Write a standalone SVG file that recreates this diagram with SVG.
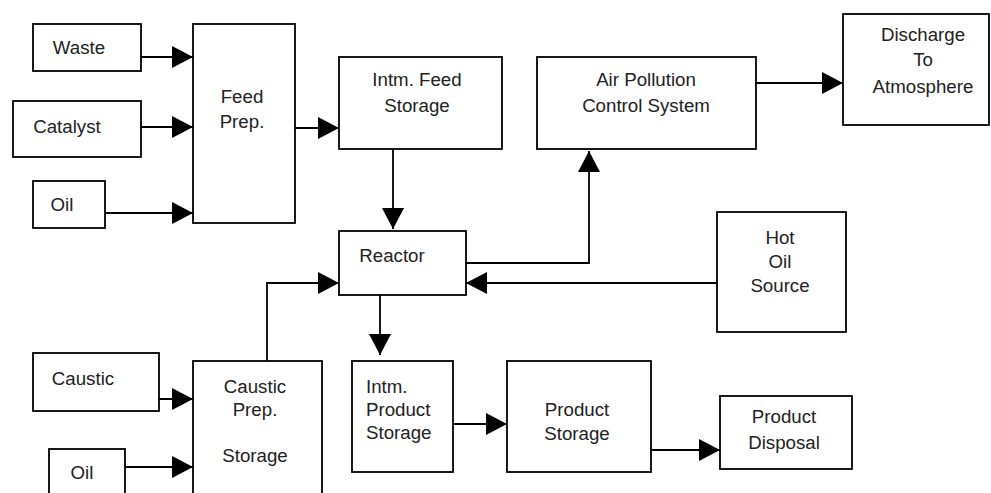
<svg xmlns="http://www.w3.org/2000/svg" width="991" height="493" viewBox="0 0 991 493">
<style>
.box{fill:#fff;stroke:#000;stroke-width:1.8}
.t{font-family:"Liberation Sans",Arial,sans-serif;font-size:18.7px;fill:#222;text-anchor:middle}
.l{text-anchor:start}
.c{fill:none;stroke:#000;stroke-width:1.8}
</style>
<defs>
<marker id="ah" viewBox="0 0 21 22" refX="21" refY="11" markerWidth="21" markerHeight="22" markerUnits="userSpaceOnUse" orient="auto"><path d="M0,0 L21,11 L0,22 Z" fill="#000"/></marker>
</defs>
<rect width="991" height="493" fill="#fff"/>
<g id="connectors">
<path class="c" d="M141,57 H193" marker-end="url(#ah)"/>
<path class="c" d="M141,127 H193" marker-end="url(#ah)"/>
<path class="c" d="M105,213 H193" marker-end="url(#ah)"/>
<path class="c" d="M295,128 H339" marker-end="url(#ah)"/>
<path class="c" d="M393,149 V229" marker-end="url(#ah)"/>
<path class="c" d="M466,263 H589 V151" marker-end="url(#ah)"/>
<path class="c" d="M756,83 H843" marker-end="url(#ah)"/>
<path class="c" d="M717,283 H466" marker-end="url(#ah)"/>
<path class="c" d="M267,361 V283 H339" marker-end="url(#ah)"/>
<path class="c" d="M159,399 H193" marker-end="url(#ah)"/>
<path class="c" d="M125,467 H193" marker-end="url(#ah)"/>
<path class="c" d="M380,295 V355" marker-end="url(#ah)"/>
<path class="c" d="M453,424 H507" marker-end="url(#ah)"/>
<path class="c" d="M651,450 H720" marker-end="url(#ah)"/>
</g>
<g id="waste"><rect class="box" x="33" y="24" width="108" height="47"/><text class="t" x="79" y="54">Waste</text></g>
<g id="catalyst"><rect class="box" x="13" y="101" width="128" height="56"/><text class="t" x="67" y="133">Catalyst</text></g>
<g id="oil1"><rect class="box" x="33" y="181" width="72" height="47"/><text class="t" x="62" y="211">Oil</text></g>
<g id="feedprep"><rect class="box" x="193" y="24" width="102" height="199"/><text class="t" x="242" y="103">Feed</text><text class="t" x="242" y="128">Prep.</text></g>
<g id="intmfeed"><rect class="box" x="339" y="57" width="163" height="92"/><text class="t" x="417" y="86">Intm. Feed</text><text class="t" x="417" y="112">Storage</text></g>
<g id="airpollution"><rect class="box" x="537" y="57" width="219" height="92"/><text class="t" x="646" y="86">Air Pollution</text><text class="t" x="646" y="112">Control System</text></g>
<g id="discharge"><rect class="box" x="843" y="14" width="146" height="111"/><text class="t" x="923" y="41">Discharge</text><text class="t" x="923" y="66">To</text><text class="t" x="923" y="93">Atmosphere</text></g>
<g id="reactor"><rect class="box" x="339" y="231" width="127" height="64"/><text class="t" x="392" y="262">Reactor</text></g>
<g id="hotoil"><rect class="box" x="717" y="212" width="129" height="120"/><text class="t" x="780" y="244">Hot</text><text class="t" x="780" y="268">Oil</text><text class="t" x="780" y="292">Source</text></g>
<g id="caustic"><rect class="box" x="33" y="353" width="126" height="58"/><text class="t" x="83" y="385">Caustic</text></g>
<g id="causticprep"><rect class="box" x="193" y="361" width="129" height="140"/><text class="t" x="255" y="393">Caustic</text><text class="t" x="255" y="416">Prep.</text><text class="t" x="255" y="462">Storage</text></g>
<g id="oil2"><rect class="box" x="49" y="449" width="76" height="60"/><text class="t" x="82" y="479">Oil</text></g>
<g id="intmproduct"><rect class="box" x="352" y="361" width="101" height="111"/><text class="t l" x="366" y="393">Intm.</text><text class="t l" x="366" y="416">Product</text><text class="t l" x="366" y="439">Storage</text></g>
<g id="productstorage"><rect class="box" x="507" y="361" width="144" height="111"/><text class="t" x="577" y="416">Product</text><text class="t" x="577" y="440">Storage</text></g>
<g id="productdisposal"><rect class="box" x="720" y="396" width="132" height="73"/><text class="t" x="784" y="423">Product</text><text class="t" x="784" y="449">Disposal</text></g>
</svg>
